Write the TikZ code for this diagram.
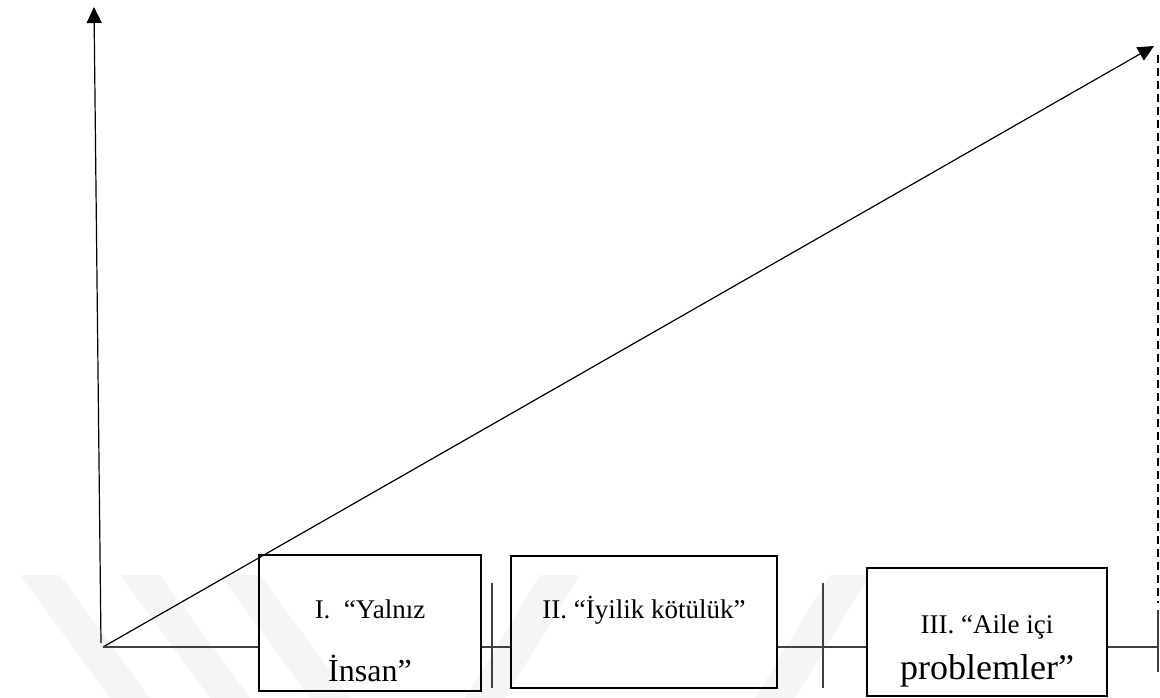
\documentclass[tikz,border=0pt]{standalone}
\usepackage{fontspec}
\setmainfont{Liberation Serif}
\usetikzlibrary{arrows.meta}

\tikzset{
kutu/.style={draw,line width=1.6pt,inner sep=0pt},
yazi/.style={anchor=base,font=\fontsize{27}{30}\selectfont},
iri/.style={anchor=base,font=\fontsize{34}{38}\selectfont},
ok/.style={-{Triangle[length=16pt,width=15pt]},line width=1.2pt},
cizgi/.style={line width=1.2pt,black!75}
}

\begin{document}
\begin{tikzpicture}[x=1pt,y=-1pt]
\useasboundingbox (0,0) rectangle (1160,698);

\foreach \a in {20,120,220}{
\fill[black!4] (\a,575)--(\a+40,575)--(\a+130,698)--(\a+90,698)--cycle;
}
\foreach \a in {465,755}{
\fill[black!4] (\a,698)--(\a+40,698)--(\a+115,575)--(\a+75,575)--cycle;
}

\coordinate (O) at (103,647);
\coordinate (dipY) at (101,643);
\coordinate (tepeY) at (94,7);
\coordinate (uc) at (1154,46);

\draw[ok] (dipY)--(tepeY);
\draw[ok] (O)--(uc);

\node[kutu,minimum width=222,minimum height=136] (k1) at (370,623) {};
\node[kutu,minimum width=266,minimum height=132] (k2) at (644,622) {};
\node[kutu,minimum width=240,minimum height=128] (k3) at (987,632) {};

\node[yazi] (k1a) at (370,618) {I.\ \ “Yalnız};
\node[iri,font=\fontsize{32}{36}\selectfont] (k1b) at (370,681) {İnsan”};
\node[yazi] (k2a) at (644,618) {II. “İyilik kötülük”};
\node[yazi] (k3a) at (987,633) {III. “Aile içi};
\node[iri,font=\fontsize{36}{40}\selectfont] (k3b) at (987,679) {problemler”};

\coordinate (t1a) at (492,583);
\coordinate (t1b) at (492,688);
\coordinate (t2a) at (823,583);
\coordinate (t2b) at (823,688);
\coordinate (t3a) at (1158,610);
\coordinate (t3b) at (1158,672);
\coordinate (kesikA) at (1158,55);
\coordinate (kesikB) at (1158,603);

\draw[cizgi] (O)--(O -| k1.west);
\draw[cizgi] (O -| k1.east)--(O -| k2.west);
\draw[cizgi] (O -| k2.east)--(O -| k3.west);
\draw[cizgi] (O -| k3.east)--(O -| t3a);

\draw[cizgi] (t1a)--(t1b);
\draw[cizgi] (t2a)--(t2b);
\draw[cizgi] (t3a)--(t3b);
\draw[line width=2pt,dash pattern=on 8pt off 5pt] (kesikA)--(kesikB);

\end{tikzpicture}
\end{document}
